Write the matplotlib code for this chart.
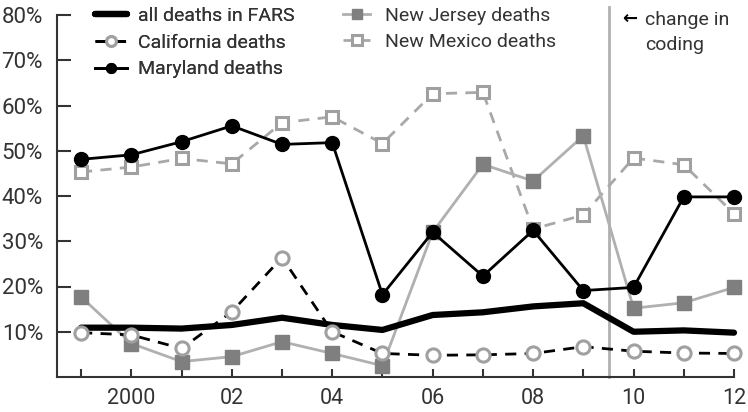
import matplotlib
matplotlib.use("Agg")
import matplotlib.pyplot as plt
from matplotlib import font_manager

names = {f.name for f in font_manager.fontManager.ttflist}
fam = "Liberation Sans Narrow" if "Liberation Sans Narrow" in names else "Roboto"
plt.rcParams['font.family'] = [fam, 'DejaVu Sans']
plt.rcParams['font.weight'] = 'normal'

years = list(range(1999, 2013))
all_fars = [10.9, 10.9, 10.7, 11.5, 13.1, 11.5, 10.4, 13.7, 14.3, 15.6, 16.3, 10.0, 10.3, 9.8]
california = [9.8, 9.3, 6.3, 14.4, 26.4, 10.0, 5.2, 4.8, 4.9, 5.2, 6.7, 5.7, 5.3, 5.2]
maryland = [48.1, 49.1, 52.0, 55.5, 51.4, 51.8, 18.2, 32.0, 22.3, 32.4, 19.1, 19.8, 39.8, 39.8]
new_jersey = [17.7, 7.4, 3.4, 4.5, 7.8, 5.2, 2.5, 32.0, 47.0, 43.3, 53.3, 15.2, 16.4, 19.8]
new_mexico = [45.3, 46.4, 48.3, 47.1, 56.2, 57.5, 51.6, 62.6, 62.9, 32.7, 35.8, 48.4, 46.9, 36.1]
xtick_pos = [2000, 2002, 2004, 2006, 2008, 2010, 2012]
xtick_labels = ["2000", "02", "04", "06", "08", "10", "12"]
ytick_pos = [10, 20, 30, 40, 50, 60, 70, 80]
ytick_labels = ["10%", "20%", "30%", "40%", "50%", "60%", "70%", "80%"]
coding_change = 2009.52

txt = "#333333"
fig = plt.figure(figsize=(7.48, 4.12), dpi=100)
ax = fig.add_axes([57/748, 1-377/412, (734-57)/748, (377-15)/412])
ax.set_xlim(1998.52, 2012)
ax.set_ylim(0, 80)

ax.axvline(coding_change, ymin=0, ymax=1.022, color="#b0b0b0", lw=2, clip_on=False, zorder=1)

l_nm, = ax.plot(years, new_mexico, color="#a8a8a8", lw=2, ls=(0, (4, 3)), marker="s", ms=9,
                mfc="white", mec="#a0a0a0", mew=2.2, clip_on=False, zorder=2)
l_nj, = ax.plot(years, new_jersey, color="#b0b0b0", lw=2, marker="s", ms=10,
                mfc="#7f7f7f", mec="#7f7f7f", clip_on=False, zorder=3)
l_md, = ax.plot(years, maryland, color="black", lw=2, marker="o", ms=10,
                mfc="black", mec="black", clip_on=False, zorder=4)
l_all, = ax.plot(years, all_fars, color="black", lw=4.5, solid_capstyle="round", clip_on=False, zorder=5)
l_ca, = ax.plot(years, california, color="black", lw=2, ls=(0, (4, 3)), marker="o", ms=9.5,
                mfc="white", mec="#a0a0a0", mew=2.2, clip_on=False, zorder=6)

for s in ["top", "right"]:
    ax.spines[s].set_visible(False)
for s in ["left", "bottom"]:
    ax.spines[s].set_color("#333333")
    ax.spines[s].set_linewidth(1.5)

ax.set_xticks(xtick_pos)
ax.set_xticklabels(xtick_labels)
ax.set_xticks(years, minor=True)
ax.set_yticks(ytick_pos)
ax.set_yticklabels(ytick_labels)
ax.tick_params(axis="y", direction="in", length=10, width=1.5, color="#333333",
               labelsize=16, labelcolor=txt, pad=10)
ax.tick_params(axis="x", which="both", direction="in", length=6, width=1.5, color="#333333",
               labelsize=15.5, labelcolor=txt, pad=8)

prop = dict(family=[fam, "DejaVu Sans"], weight="normal", size=14)
leg1 = fig.legend([l_all, l_ca, l_md], ["all deaths in FARS", "California deaths", "Maryland deaths"],
                  loc="upper left", bbox_to_anchor=(95/748, 1 - 7/412), frameon=False,
                  prop=prop, handlelength=1.65, handletextpad=0.55, labelspacing=0.45,
                  labelcolor=txt, borderaxespad=0, borderpad=0)
leg2 = fig.legend([l_nj, l_nm], ["New Jersey deaths", "New Mexico deaths"],
                  loc="upper left", bbox_to_anchor=(343/748, 1 - 7/412), frameon=False,
                  prop=prop, handlelength=1.4, handletextpad=0.75, labelspacing=0.4,
                  labelcolor=txt, borderaxespad=0, borderpad=0)
fig.add_artist(leg1)
for lg in (leg1, leg2):
    for h in lg.legend_handles:
        h.set_markersize(7)

fig.text(622/748, 1 - 19/412, "\u2190", fontsize=13, color="black", va="center", ha="left",
         family=["DejaVu Sans"], fontweight="bold")
fig.text(645/748, 1 - 20/412, "change in", fontsize=14, color=txt, va="center", ha="left")
fig.text(645/748, 1 - 45/412, "coding", fontsize=14, color=txt, va="center", ha="left")

fig.savefig("out.png", dpi=100)
